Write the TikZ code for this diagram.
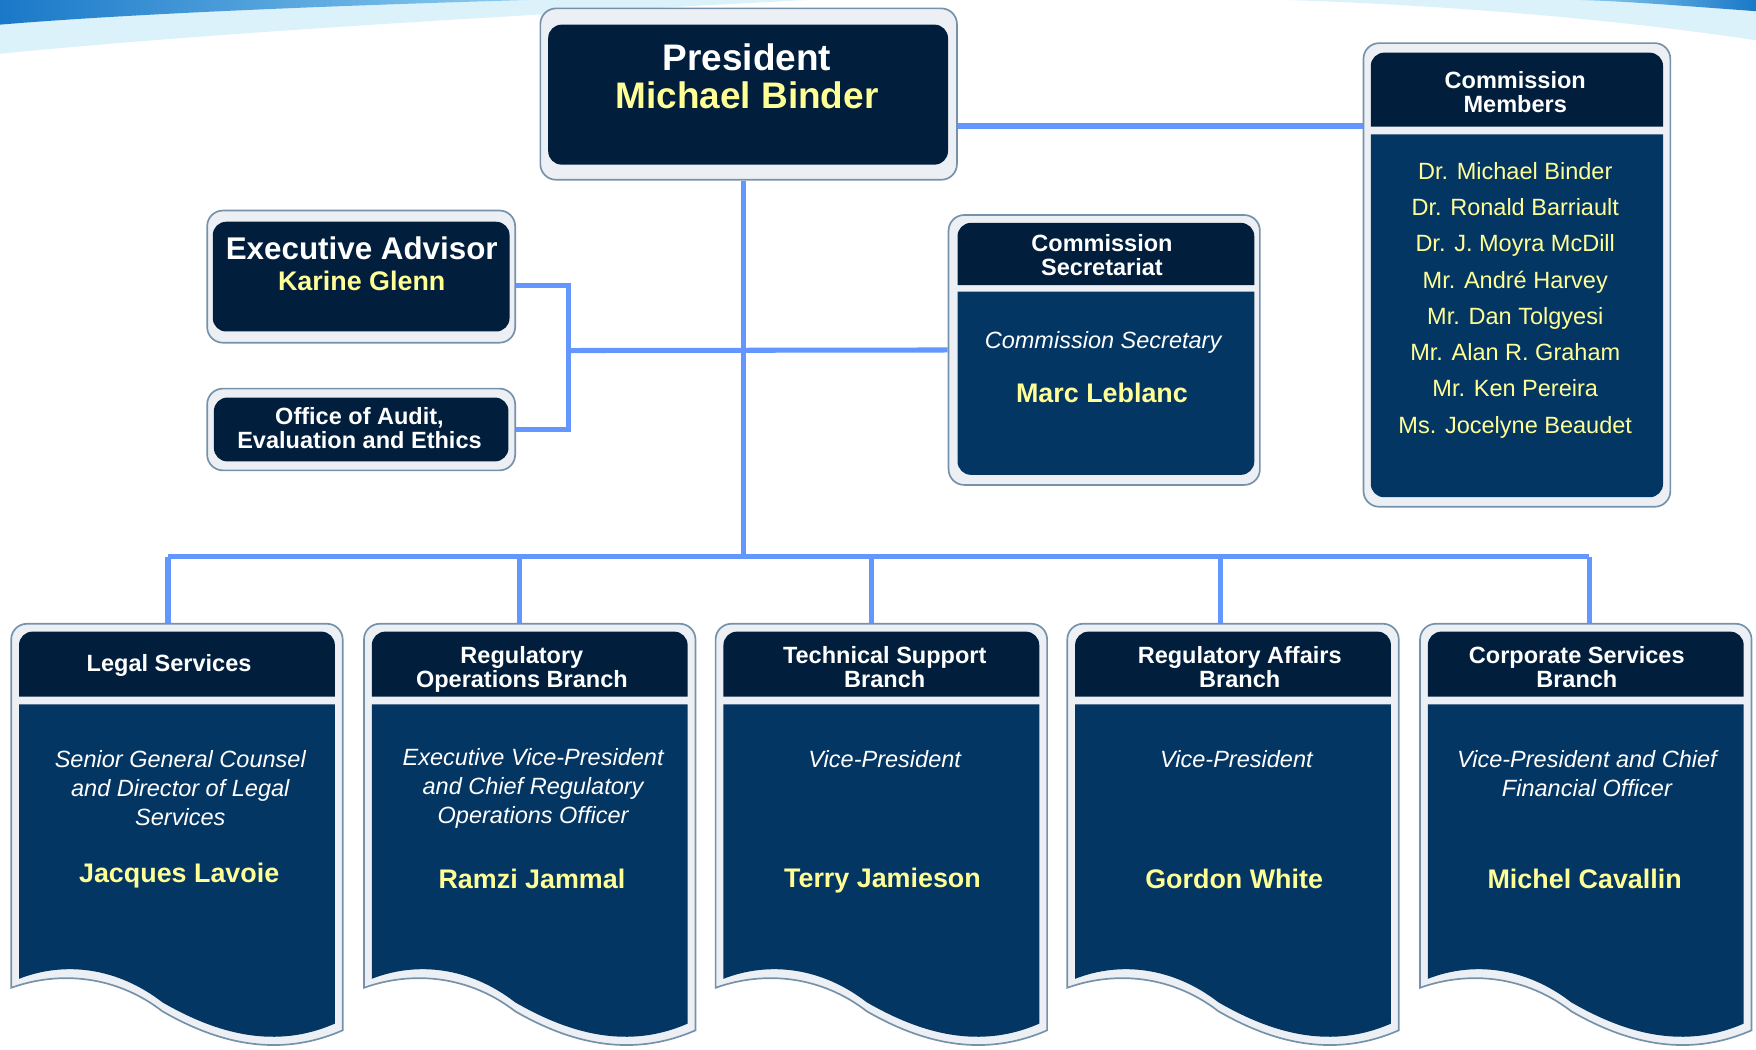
\documentclass[tikz,border=0pt]{standalone}
\usepackage{fontspec}
\setmainfont{Liberation Sans}
\definecolor{hdrnavy}{RGB}{1,31,61}
\definecolor{bodynavy}{RGB}{4,54,100}
\definecolor{nameyellow}{RGB}{255,255,150}
\definecolor{linkblue}{RGB}{100,150,255}
\definecolor{framefill}{RGB}{236,240,244}
\definecolor{frameline}{RGB}{118,146,170}
\definecolor{swooshdark}{RGB}{25,120,200}
\definecolor{swooshlight}{RGB}{140,205,240}
\definecolor{swooshglow}{RGB}{220,242,251}
\tikzset{
  boxframe/.style={draw=frameline, fill=framefill, line width=1.5pt, rounded corners=14pt, inner sep=0pt},
  darkfill/.style={fill=hdrnavy, rounded corners=12pt, inner sep=0pt},
  link/.style={draw=linkblue, line width=4.5pt},
  hdrtext/.style={text=white, font=\bfseries\fontsize{21}{21.5}\selectfont, align=center, inner sep=0pt},
  ttltext/.style={text=white, font=\itshape\fontsize{21}{26}\selectfont, align=center, inner sep=0pt},
  nametext/.style={text=nameyellow, font=\bfseries\fontsize{24}{26}\selectfont, inner sep=0pt},
  mbrtext/.style={text=nameyellow, font=\fontsize{21}{32.4}\selectfont, align=center, inner sep=0pt},
}
% branch box with wavy bottom, #1 = left edge
\newcommand{\branchframe}[1]{%
  \path[draw=frameline, fill=framefill, line width=1.5pt] (#1,700) [rounded corners=14pt] -- (#1,557) -- (#1+296,557) -- (#1+296,700) [sharp corners] -- (#1+296,920) .. controls (#1+232,948) and (#1+175,926) .. (#1+135,903) .. controls (#1+95,872) and (#1+45,866) .. (#1,882) -- cycle;
  \fill[hdrnavy] (#1+7,622) -- (#1+7,590) [rounded corners=12pt] -- (#1+7,564) -- (#1+289,564) -- (#1+289,590) [sharp corners] -- (#1+289,622) -- cycle;
  \fill[bodynavy] (#1+7,629) -- (#1+289,629) -- (#1+289,914) .. controls (#1+230,940) and (#1+175,918) .. (#1+135,895) .. controls (#1+95,864) and (#1+48,858) .. (#1+7,874) -- cycle;
}
\begin{document}
\begin{tikzpicture}[x=1pt,y=-1pt]
\useasboundingbox (0,0) rectangle (1568,937.5);
\clip (0,0) rectangle (1568,937.5);
\fill[white] (0,0) rectangle (1568,937.5);
% top swooshes
\fill[swooshglow] (0,0) -- (720,0) .. controls (450,14) and (180,30) .. (0,48) -- cycle;
\shade[left color=swooshdark, right color=swooshlight] (0,0) -- (470,0) .. controls (300,5) and (120,12) .. (0,22) -- cycle;
\fill[swooshglow] (1150,0) -- (1568,0) -- (1568,36) .. controls (1450,18) and (1300,5) .. (1150,0) -- cycle;
\shade[left color=swooshlight, right color=swooshdark] (1410,0) -- (1568,0) -- (1568,10) .. controls (1500,5) and (1450,1) .. (1410,0) -- cycle;

% boxes
\node[boxframe, minimum width=372pt, minimum height=153pt] (pres) at (668.5,84) {};
\node[darkfill, minimum width=357pt, minimum height=125pt] (presin) at (668,84.5) {};
\node[boxframe, minimum width=275pt, minimum height=118pt] (exec) at (322.5,247) {};
\node[darkfill, minimum width=265pt, minimum height=98pt] (execin) at (322.5,247) {};
\node[boxframe, minimum width=275pt, minimum height=73pt] (audit) at (322.5,383.5) {};
\node[darkfill, minimum width=263pt, minimum height=57pt] (auditin) at (322.5,383.5) {};
\node[boxframe, minimum width=278pt, minimum height=241pt] (sec) at (986,312.5) {};
\node[boxframe, minimum width=274pt, minimum height=414pt] (mem) at (1354.5,245.5) {};

% connectors
\coordinate (hub) at (664,313);
\coordinate (brk) at (508,313);
\coordinate (bus) at (664,497);
\coordinate (legaltop) at (150,557);
\coordinate (regoptop) at (464,557);
\coordinate (techtop) at (778,557);
\coordinate (regaftop) at (1090,557);
\coordinate (corptop) at (1419,557);
\draw[link] ([yshift=-28.5pt]pres.east) -- ([yshift=-28.5pt]pres.east -| mem.west);
\draw[link] (pres.south -| hub) -- (bus);
\draw[link] ([yshift=-8pt]exec.east) -| (brk);
\draw[link] (audit.east) -| (brk);
\draw[link] (brk) -- (sec.west);
\draw[link] (bus -| legaltop) -- (bus -| corptop);
\draw[link] (bus -| legaltop) -- (legaltop);
\draw[link] (bus -| regoptop) -- (regoptop);
\draw[link] (bus -| techtop) -- (techtop);
\draw[link] (bus -| regaftop) -- (regaftop);
\draw[link] (bus -| corptop) -- (corptop);

% secretariat and members panels
\fill[hdrnavy] (855,254.5) -- (855,230) [rounded corners=12pt] -- (855,199) -- (1120,199) -- (1120,230) [sharp corners] -- (1120,254.5) -- cycle;
\fill[bodynavy] (855,260.5) -- (1120,260.5) -- (1120,300) [rounded corners=12pt] -- (1120,424) -- (855,424) -- (855,300) [sharp corners] -- cycle;
\fill[hdrnavy] (1224,113) -- (1224,80) [rounded corners=12pt] -- (1224,47) -- (1485,47) -- (1485,80) [sharp corners] -- (1485,113) -- cycle;
\fill[bodynavy] (1224,120) -- (1485,120) -- (1485,200) [rounded corners=12pt] -- (1485,444) -- (1224,444) -- (1224,200) [sharp corners] -- cycle;

% branch boxes
\branchframe{10}
\branchframe{325}
\branchframe{639}
\branchframe{953}
\branchframe{1268}

% texts
\node[hdrtext, font=\bfseries\fontsize{33}{34}\selectfont] (prestitle) at (667,68) {President\\\textcolor{nameyellow}{Michael Binder}};
\node[hdrtext, font=\bfseries\fontsize{28}{30}\selectfont] (exectitle) at (323,222) {Executive Advisor};
\node[nametext] (execname) at (323,251) {Karine Glenn};
\node[hdrtext] (audittitle) at (321,382) {Office of Audit,\\Evaluation and Ethics};
\node[hdrtext] (sechdr) at (984,228) {Commission\\Secretariat};
\node[ttltext] (sectitle) at (985,305.5) {Commission Secretary};
\node[nametext] (secname) at (984,351) {Marc Leblanc};
\node[hdrtext] (memhdr) at (1353,82) {Commission\\Members};
\node[mbrtext] (memlist) at (1353,268) {Dr. Michael Binder\\Dr. Ronald Barriault\\Dr. J. Moyra McDill\\Mr. André Harvey\\Mr. Dan Tolgyesi\\Mr. Alan R. Graham\\Mr. Ken Pereira\\Ms. Jocelyne Beaudet};

\node[hdrtext] (legalhdr) at (151,594) {Legal Services};
\node[ttltext] (legalttl) at (161,704) {Senior General Counsel\\and Director of Legal\\Services};
\node[nametext] (legalname) at (160,782) {Jacques Lavoie};
\node[hdrtext] (regophdr) at (466,597.5) {Regulatory\\Operations Branch};
\node[ttltext] (regopttl) at (476,704) {Executive Vice-President\\and Chief Regulatory\\Operations Officer};
\node[nametext] (regopname) at (475,785) {Ramzi Jammal};
\node[hdrtext] (techhdr) at (790,596) {Technical Support\\Branch};
\node[ttltext] (techttl) at (790,678) {Vice-President};
\node[nametext] (techname) at (788,786) {Terry Jamieson};
\node[hdrtext] (regafhdr) at (1107,596) {Regulatory Affairs\\Branch};
\node[ttltext] (regafttl) at (1104,678) {Vice-President};
\node[nametext] (regafname) at (1102,785) {Gordon White};
\node[hdrtext] (corphdr) at (1408,596) {Corporate Services\\Branch};
\node[ttltext] (corpttl) at (1417,691) {Vice-President and Chief\\Financial Officer};
\node[nametext] (corpname) at (1415,785) {Michel Cavallin};
\end{tikzpicture}
\end{document}
